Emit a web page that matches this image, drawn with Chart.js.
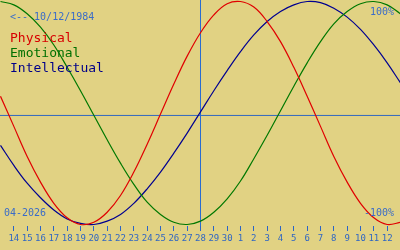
<!DOCTYPE html>
<html>
<head>
<meta charset="utf-8">
<script src="https://cdn.jsdelivr.net/npm/chart.js@4"></script>
<style>
    body { margin: 0; background: #e1d283; }
    #wrap { position: relative; width: 400px; height: 250px; background: #e1d283; overflow: hidden; }
    #chart { position: absolute; left: 0; top: 0; }
    .txt { position: absolute; font-family: "DejaVu Sans Mono", monospace; line-height: 1; white-space: pre; }
    .small { font-size: 10px; color: #3a6cc8; }
    .big { font-size: 13px; }
</style>
</head>
<body>
<div id="wrap">
    <canvas id="chart" width="400" height="250"></canvas>
    <div class="txt small" style="left:10px; top:12px;">&lt;-- 10/12/1984</div>
    <div class="txt big" style="left:10px; top:31px; color:#d80000;">Physical</div>
    <div class="txt big" style="left:10px; top:46px; color:#007000;">Emotional</div>
    <div class="txt big" style="left:10px; top:61px; color:#000088;">Intellectual</div>
    <div class="txt small" style="right:6px; top:7px;">100%</div>
    <div class="txt small" style="right:6px; top:208px;">-100%</div>
    <div class="txt small" style="left:4px; top:208px;">04-2026</div>
</div>
<script>
// day labels shown under the chart (14 April .. 12 May)
const dayLabels = ['14', '15', '16', '17', '18', '19', '20', '21', '22', '23', '24', '25', '26', '27', '28',
    '29', '30', '1', '2', '3', '4', '5', '6', '7', '8', '9', '10', '11', '12'];

// values, one per day, plus one day before and after the visible range
const physical = [0.15, -0.12, -0.39, -0.62, -0.81, -0.94, -1.00, -0.98, -0.89, -0.74, -0.53, -0.28, -0.01,
    0.26, 0.51, 0.72, 0.88, 0.98, 1.00, 0.95, 0.82, 0.64, 0.41, 0.15, -0.12, -0.39, -0.62, -0.81, -0.94, -1.00, -0.98];
const emotional = [1.00, 0.97, 0.89, 0.77, 0.61, 0.41, 0.20, -0.02, -0.24, -0.45, -0.64, -0.80, -0.91,
    -0.98, -1.00, -0.97, -0.89, -0.77, -0.61, -0.41, -0.20, 0.02, 0.24, 0.45, 0.64, 0.80, 0.91, 0.98, 1.00, 0.97, 0.89];
const intellectual = [-0.29, -0.47, -0.63, -0.76, -0.87, -0.95, -0.99, -1.00, -0.97, -0.91, -0.81, -0.68, -0.53,
    -0.36, -0.18, 0.01, 0.20, 0.38, 0.55, 0.70, 0.82, 0.91, 0.97, 1.00, 0.99, 0.94, 0.86, 0.75, 0.61, 0.45, 0.27];

const todayIndex = 14;   // 28 April, the blue marker
const zeroLevel = -0.022;

function toPoints(values) {
    return values.map((v, i) => ({ x: i - 1, y: v }));
}

window.onload = function() {
    const ctx = document.getElementById('chart').getContext('2d');
    new Chart(ctx, {
        type: 'line',
        data: {
            datasets: [
                { label: 'Physical', data: toPoints(physical), borderColor: '#e00000', borderWidth: 1.2, tension: 0.4, pointRadius: 0 },
                { label: 'Emotional', data: toPoints(emotional), borderColor: '#007800', borderWidth: 1.2, tension: 0.4, pointRadius: 0 },
                { label: 'Intellectual', data: toPoints(intellectual), borderColor: '#000090', borderWidth: 1.2, tension: 0.4, pointRadius: 0 },
                { label: 'today', data: [{ x: todayIndex, y: -1.1 }, { x: todayIndex, y: 1.1 }], borderColor: '#2a6cd0', borderWidth: 1, pointRadius: 0 },
                { label: 'zero', data: [{ x: -2, y: zeroLevel }, { x: 30, y: zeroLevel }], borderColor: '#3068c0', borderWidth: 1, pointRadius: 0 }
            ]
        },
        options: {
            responsive: false,
            animation: false,
            devicePixelRatio: 1,
            layout: { padding: 0 },
            plugins: { legend: { display: false }, tooltip: { enabled: false } },
            scales: {
                x: {
                    type: 'linear',
                    min: -1.0375,
                    max: 28.9625,
                    position: 'bottom',
                    border: { display: false },
                    grid: { drawOnChartArea: false, drawTicks: true, tickLength: 5, color: '#2a64c8', lineWidth: 1 },
                    ticks: {
                        autoSkip: false,
                        maxRotation: 0,
                        padding: 2,
                        color: '#2f66c4',
                        font: { family: 'DejaVu Sans Mono', size: 9 },
                        callback: value => dayLabels[value]
                    },
                    afterBuildTicks: axis => {
                        axis.ticks = dayLabels.map((_, i) => ({ value: i }));
                    },
                    afterFit: axis => {
                        axis.height = 24;
                    }
                },
                y: {
                    display: false,
                    min: -1.0135,
                    max: 1.0135
                }
            }
        }
    });
};
</script>
</body>
</html>
